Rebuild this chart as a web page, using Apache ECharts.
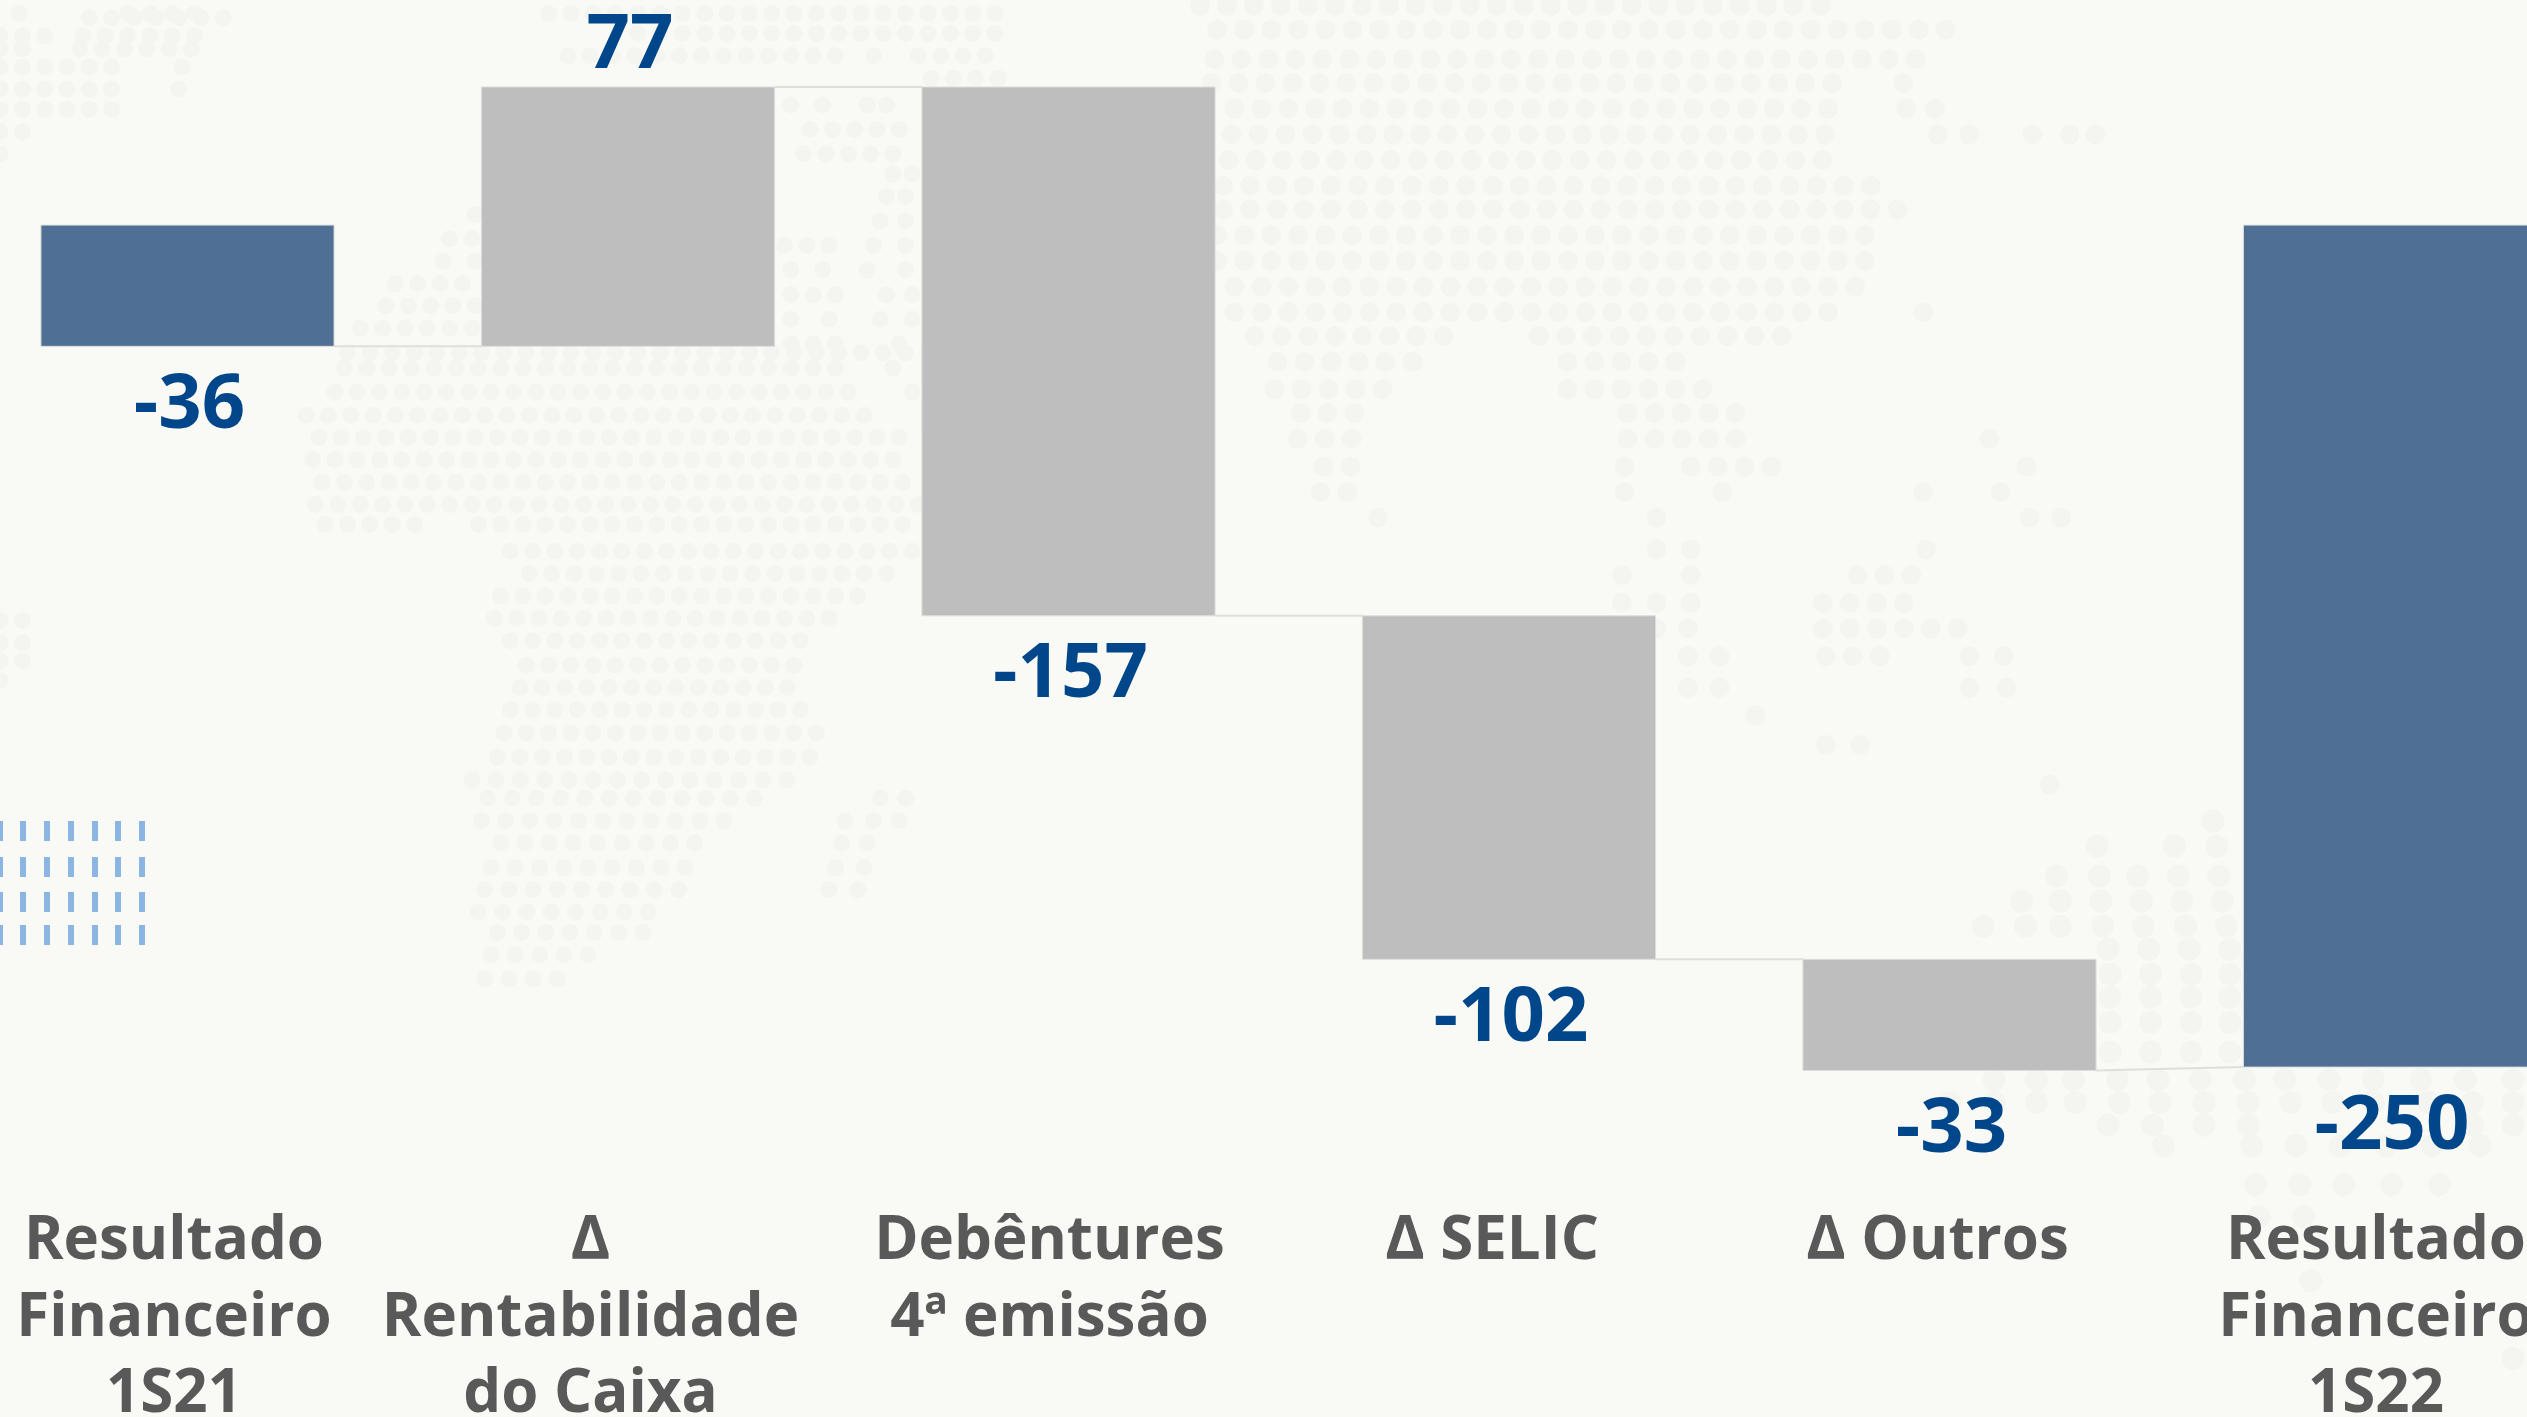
<!DOCTYPE html>
<html>
<head>
<meta charset="utf-8">
<style>html,body{margin:0;padding:0;background:#F9FAF5;}#c{width:2527px;height:1417px;}</style>
<script src="https://cdn.jsdelivr.net/npm/echarts@6/dist/echarts.min.js"></script>
</head>
<body>
<div id="c"></div>
<script>
const categories = ['Resultado\nFinanceiro\n1S21','Δ\nRentabilidade\ndo Caixa','Debêntures\n4ª emissão','Δ SELIC','Δ Outros','Resultado\nFinanceiro\n1S22'];
const values = [-36,77,-157,-102,-33,-250];
const isTotal = [true,false,false,false,false,true];
const categoryLabelShift = [13.5,37.5,19,17,12,14];

const starts = [], ends = [];
let running = 0;
values.forEach((v,i)=>{
  const s = isTotal[i] ? 0 : running;
  const e = isTotal[i] ? v : s + v;
  starts.push(s); ends.push(e); running = e;
});

/* faint dotted-map backdrop: decoration only */
const dotRegions = [
 {sx:1.568,sy:2.24,ox:0,oy:0,p:35,r:8.5,rows:[
  [30,[30,60],[200,320]],[40,[140,350]],[80,[0,70],[130,330]],[110,[0,60],[125,330]],[150,[0,190],285],[200,[0,180],280],[245,[0,180]],[295,[0,60]],[345,[0,20]],
  [30,[860,1568]],[75,[1000,1568]],[125,[890,1310],1370,[1440,1568]],[175,[1460,1568]],[235,1240,1290,1360,1390],[290,[1270,1420]],[345,[1260,1420]],[390,1400,1430],[440,1390,1420],[495,1380,1420],[550,[1230,1330],1370,1420],[605,1240,1290,1360,1420],[660,[1240,1320],1390,1430],[715,1240,1300,1380,1430],[770,[1240,1340],1410],
  [480,745],[535,705,740],[585,695,745],[635,[620,750]],[685,[605,750]],[735,[565,750]],
  [790,[545,1450]],[825,[540,1340],1400],[878,[525,1360],1430],[930,[480,1360]],[980,[500,1440]],[1030,[490,1420]],[1080,[505,1440]],[1130,[495,1440]],[1175,[510,660],[750,1440]],[1235,[800,1440]],[1285,[830,1420]],[1335,[785,1370]],[1385,[775,1320]],[1435,[800,1270]],[1490,[825,1270]],[1540,[815,1250]],
  [1590,[800,1270]],[1642,[790,1290]],[1696,[780,1270]],
  [1390,[0,40]],[1440,[0,60]],[1480,[0,45]],[1525,[0,30]]
 ]},
 {sx:1.568,sy:2.46,ox:0,oy:780,p:38,r:8.5,rows:[
  [0,[740,1250]],[45,[765,1200],1380,1420],[100,[755,1160],1325,1370,1410],[155,[785,1110],1320,1360],[215,[770,1100],1310,1355],[270,[760,1090],1300,1345],[325,[750,1040]],[375,[780,1030]],[430,[770,930]],[490,[760,880]]
 ]},
 {sx:1.742,sy:2.53,ox:1200,oy:0,p:47,r:10,rows:[
  [15,[0,1120]],[75,[30,1330]],[150,[25,1280]],[210,[20,1120],1225],[275,[60,1120],1230,1280],[340,[55,1125],1285,1340,1450,1515,1560],[405,[50,1125]],[470,[40,1180]],[530,[40,1225]],[595,[30,1185]],[660,[30,1185]],[725,[60,1185]],[790,[60,1135],1260],[850,[95,435],[590,1020]],[915,[135,385],[640,855]],[985,[130,330],[640,910]],[1045,[175,270],[745,965]],[1110,[170,270],[745,965],1375],[1180,[215,265],740,[855,1025],1440],[1245,[210,260],740,910,1260,1395],[1310,310,795,1445,1500],[1390,795,855,1265],[1455,735,855,[1145,1265]],[1525,735,795,855,[1085,1265]],
  [1590,795,850,[1085,1335]],[1660,850,905,[1090,1210],1340,1400],[1740,850,905,1340,1405],[1810,968],[1885,1090,1150],[1985,1480]
 ]},
 {sx:2.717,sy:2.187,ox:1950,oy:700,p:110,r:11.5,rows:[
  [265,715],[320,400,610,725],[385,290,405,510,620,730],[440,195,300,410,520,630,740],[495,90,205,300,415,525,640,750],[545,430,540,650,760],[600,435,545,655,760],[650,435,545,655,760],[705,435,545,655,760],[770,435,545,655,760],
  [830,120,235,335,455,565,680,800,910,1030,1150,1280,1400,1530],[880,0,120,235,340,460,570,690,810,925,1040,1150,1300,1420,1530],[930,430,550,690,810,1420,1530],[975,580,820,940,1060,1185,1310,1440],[1060,830,950,1070,1200,1330],[1130,840,960],[1270,980],[1440,1530]
 ]}
];
const dashXs = [0,20,44,68,92,115,139];
const dashYs = [821,857,892,925];

const dotChildren = [];
dotRegions.forEach(reg=>{
  reg.rows.forEach(row=>{
    const Y = row[0];
    row.slice(1).forEach(item=>{
      const xs = [];
      if (Array.isArray(item)) { for (let X=item[0]; X<=item[1]; X+=reg.p) xs.push(X); }
      else xs.push(item);
      xs.forEach(X=>dotChildren.push({type:'circle',silent:true,
        shape:{cx:reg.ox+X/reg.sx,cy:reg.oy+Y/reg.sy,r:reg.r},style:{fill:'#F4F5F0'}}));
    });
  });
});
const dashChildren = [];
dashYs.forEach(y=>dashXs.forEach(x=>dashChildren.push({type:'rect',silent:true,
  shape:{x:x,y:y,width:x===0?3:6,height:20},style:{fill:'#8BB5E3'}})));

const chart = echarts.init(document.getElementById('c'),null,{renderer:'canvas'});
chart.setOption({
  backgroundColor:'#F9FAF5',
  animation:false,
  graphic:[
    {type:'group',z:-10,silent:true,children:dotChildren},
    {type:'group',z:-9,silent:true,children:dashChildren}
  ],
  grid:{left:-32.75,top:23,width:2643,height:1162,containLabel:false,outerBoundsMode:'none'},
  xAxis:{
    type:'category',
    data:categories.map((c,i)=>({value:c,textStyle:{padding:[0,categoryLabelShift[i]*2,0,0]}})),
    axisLine:{show:false},axisTick:{show:false},
    axisLabel:{show:true,interval:0,margin:19,color:'#595959',fontFamily:'"Open Sans"',fontWeight:'bold',fontSize:60,lineHeight:76.5,hideOverlap:false}
  },
  yAxis:{type:'value',min:-285,max:60,show:false,splitLine:{show:false}},
  series:[{
    type:'custom',
    clip:false,
    encode:{x:0,y:[1,2]},
    data:categories.map((c,i)=>[i,starts[i],ends[i],values[i]]),
    renderItem:function(params,api){
      const i = api.value(0), s = api.value(1), e = api.value(2), v = api.value(3);
      const band = api.size([1,0])[0];
      const w = band*0.6655;
      const cx = api.coord([i,0])[0];
      const yS = api.coord([i,s])[1], yE = api.coord([i,e])[1];
      const top = Math.min(yS,yE), bottom = Math.max(yS,yE);
      const children = [{type:'rect',
        shape:{x:cx-w/2,y:top,width:w,height:bottom-top},
        style:{fill:isTotal[i]?'#506F95':'#BEBEBE',stroke:'#DEDFDC',lineWidth:1}}];
      if (i < categories.length-1) {
        const nextLevel = isTotal[i+1] ? ends[i+1] : starts[i+1];
        children.push({type:'line',
          shape:{x1:cx+w/2,y1:yE,x2:cx+band-w/2,y2:api.coord([i,nextLevel])[1]},
          style:{stroke:'#DEDFDC',lineWidth:2}});
      }
      const labelBelow = v < 0;
      children.push({type:'text',
        style:{text:String(v),x:cx+2,y:labelBelow?bottom+60:top-41,align:'center',verticalAlign:'middle',
          fill:'#00468B',fontFamily:'"Open Sans"',fontWeight:'bold',fontSize:76}});
      return {type:'group',children:children};
    }
  }]
});
</script>
</body>
</html>
